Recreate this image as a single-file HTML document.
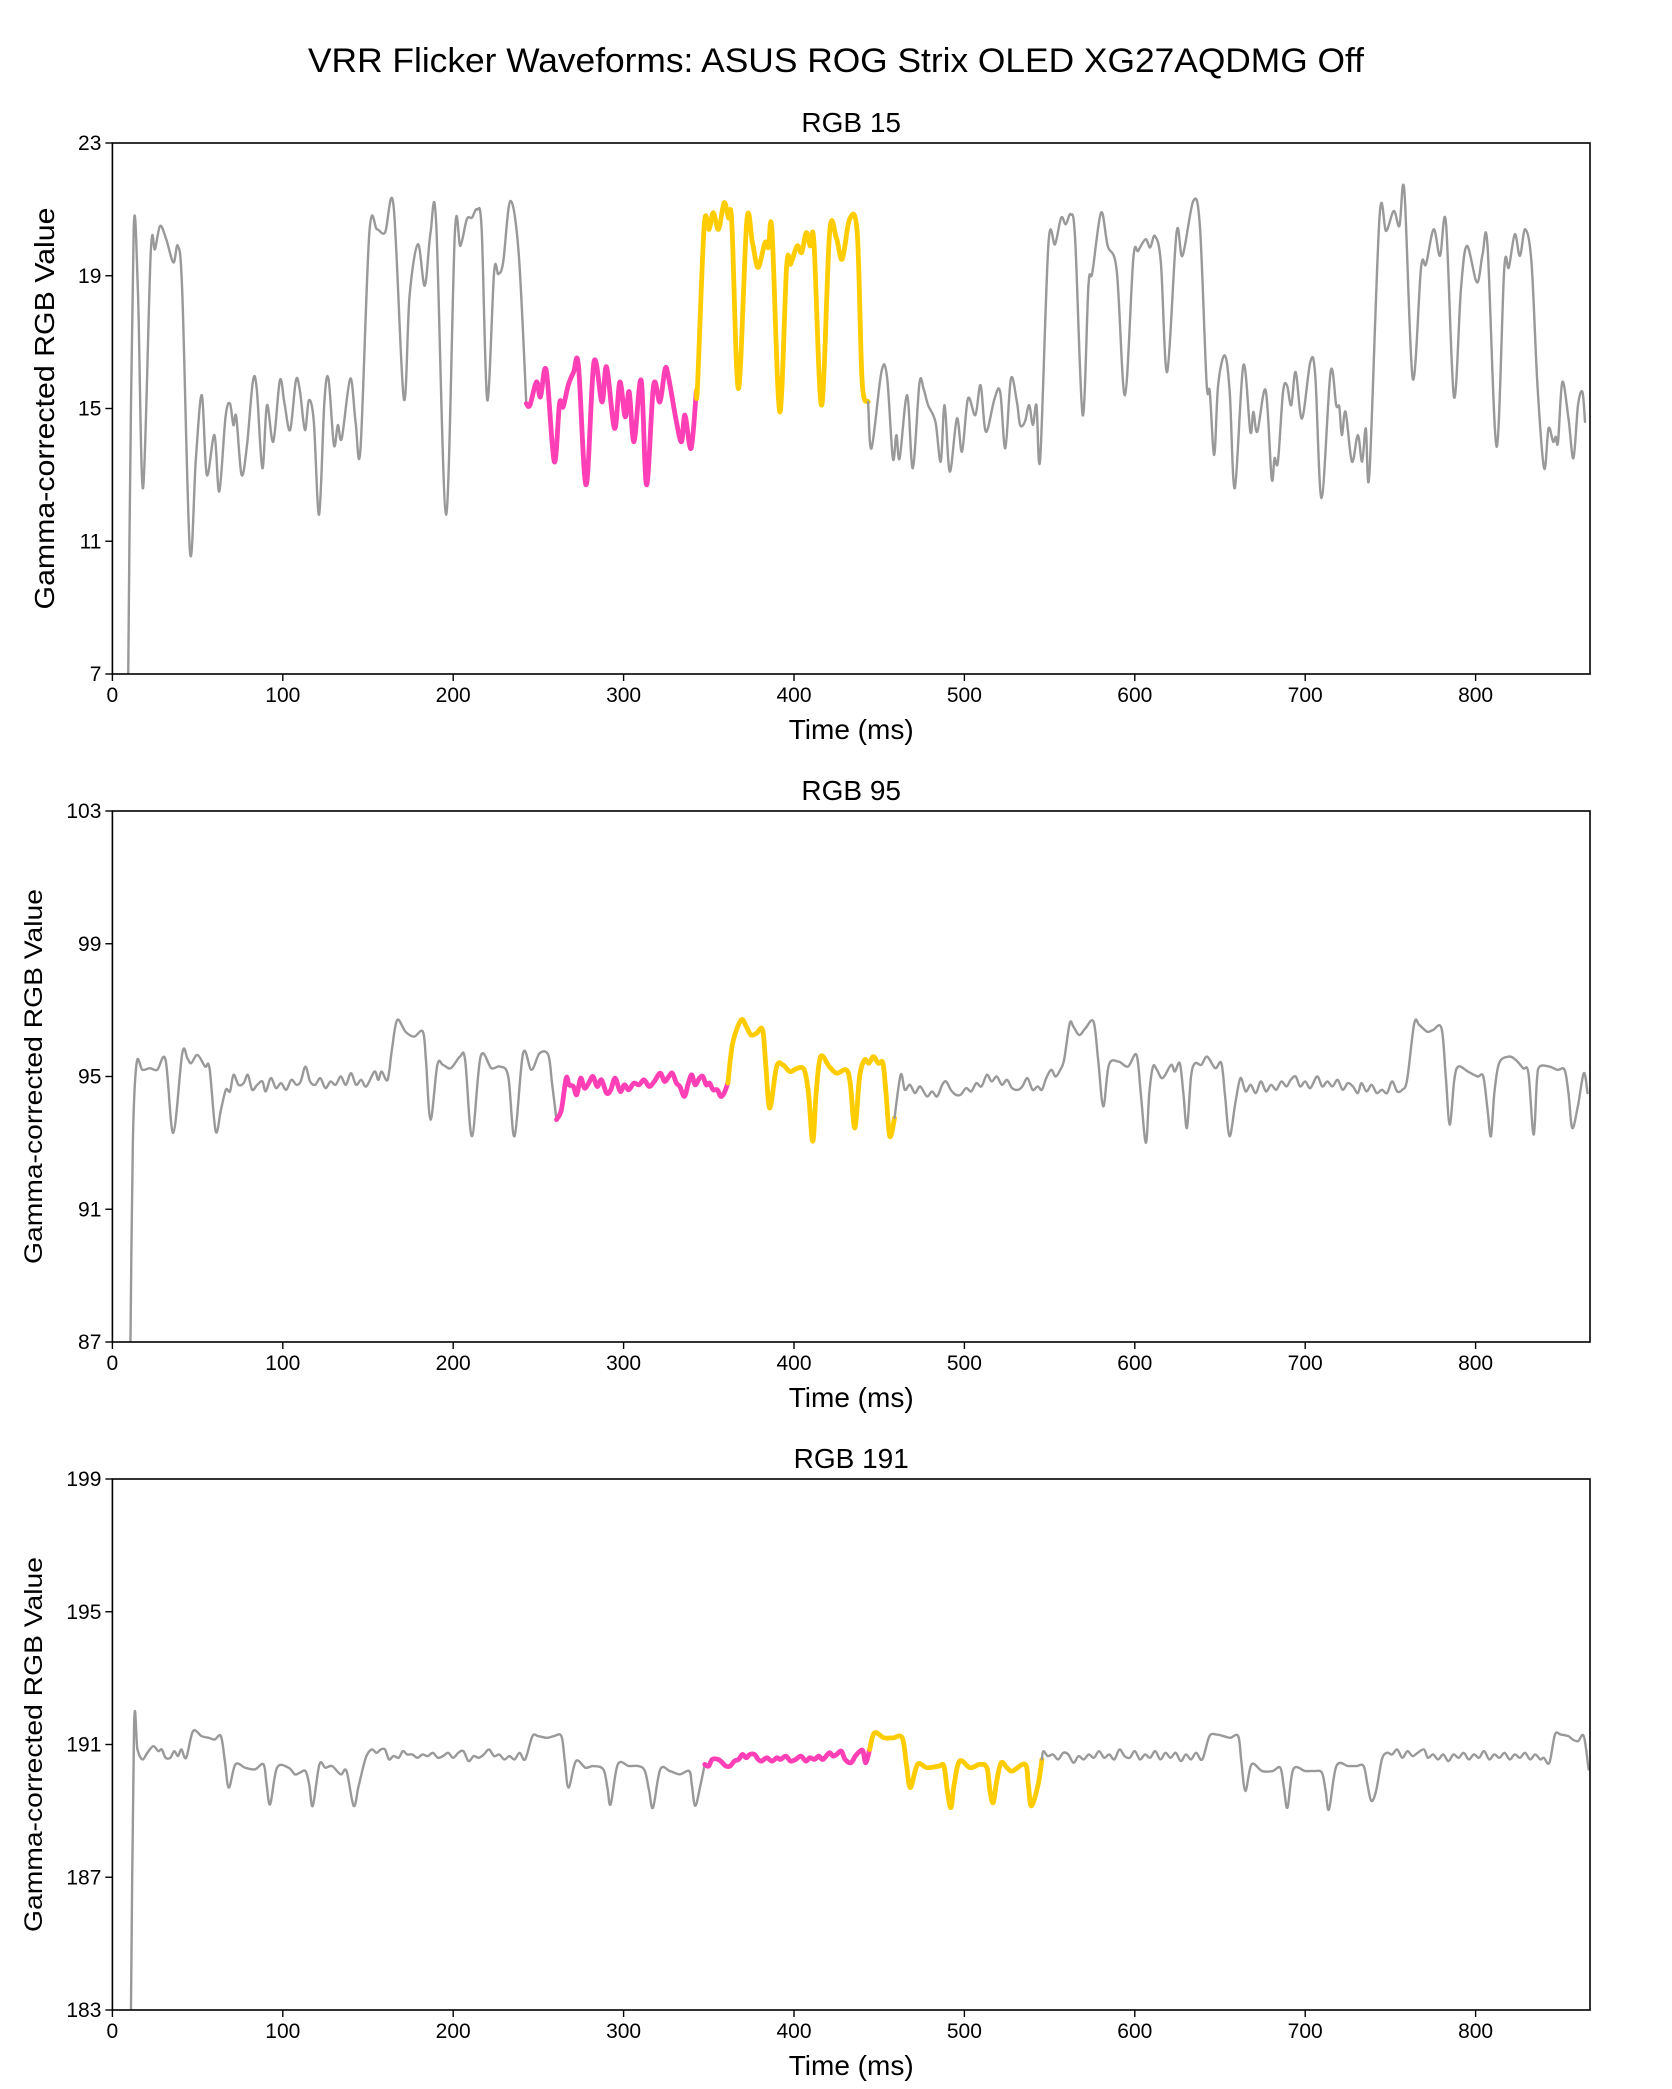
<!DOCTYPE html>
<html>
<head>
<meta charset="utf-8">
<style>
  html, body { margin: 0; padding: 0; background: #fff; }
  svg { display: block; font-family: "Liberation Sans", "DejaVu Sans", sans-serif; }
</style>
</head>
<body>
<svg id="chart" width="1672" height="2089" viewBox="0 0 1672 2089" xmlns="http://www.w3.org/2000/svg">
  <rect x="0" y="0" width="1672" height="2089" fill="#ffffff"/>
  <text x="836" y="72" text-anchor="middle" font-size="34" textLength="1056" lengthAdjust="spacingAndGlyphs" fill="#000">VRR Flicker Waveforms: ASUS ROG Strix OLED XG27AQDMG Off</text>
</svg>
<script>
// ---------- data ----------
const xTicks = [0, 100, 200, 300, 400, 500, 600, 700, 800];
const panelTitles = ["RGB 15", "RGB 95", "RGB 191"];
const p1Ticks = [7, 11, 15, 19, 23];
const p2Ticks = [87, 91, 95, 99, 103];
const p3Ticks = [183, 187, 191, 195, 199];
// segment boundaries [pinkStart, yellowStart, yellowEnd] in ms
const p1Segments = [242.9, 343.0, 443.5];
const p2Segments = [260.6, 361.2, 459.0];
const p3Segments = [347.6, 444.4, 545.5];

const p1Time = [9.2,10,12.5,15,18,22.5,25,28,31.6,35.8,38.4,41,45.5,49,52.5,55.4,59.9,62.7,66.4,69,71,72.7,75.8,79,82.4,84.7,88,90.7,94.4,98.3,101,104.3,107.7,110,113,115.3,118.2,121.3,124.4,126.8,130,132.3,134.6,139.6,142.7,145.6,150.8,155.3,160,165,171,174.4,179.3,183.3,186.7,190,195.8,201,204.2,208,211,214,216.7,220,224,226.5,229.3,233.5,238.4,242.9,
245,248.9,251.2,254.6,259.3,262.4,264.5,267.5,270.7,273.5,278,282.6,287.3,290,294.7,297.8,300.9,303.3,306.1,310.3,313.5,317.6,321.3,324.4,326.5,331,334,336,339.6,342.7,
343.4,347.3,350.2,352.6,355.7,359,361.5,363.5,367.4,372.3,375.6,378.9,383,385,387.1,391.6,395.7,398,401.9,404.5,407.2,409.5,411.7,416.2,420.9,424.8,428.3,432.6,437.1,440,443.5,
445.5,451.3,454.6,458,460.1,462,466.4,469.7,473.6,476,478.7,483,486.1,488.4,491.4,495.6,498.6,502.1,506.4,509.5,512.6,517.7,521,524,527.3,530.8,532.7,535.5,538,540.2,542.3,544.5,549.3,553.2,556.8,559.5,562.4,565,569.4,572.8,575.1,580.2,584.1,589.4,594.2,599.1,602,606.3,609,611.8,615.3,619,624.5,628,634.3,638.2,642.1,644,646.6,648.9,652.8,655.7,658.7,663.7,667.8,669.6,671.9,676.8,680.3,682,684,687,689.3,691.8,694.4,698.1,703,705.9,709.6,714.9,718.2,720,721.5,723.7,727.4,730.9,733.4,735.6,737.7,743.6,747.5,752,755.3,758.2,763.1,768,770.9,775.4,779.1,782.6,787.3,791.4,794.9,800.8,804.1,807,812.3,816.8,819.5,823,826,829.1,832.8,836.3,840.2,842.8,845.5,847,848.4,850.9,854.5,857.4,860.1,862.7,864.2];
const p1Value = [6.5,11,20.4,18.5,12.6,19.7,19.8,20.5,20.1,19.4,19.9,18.5,10.7,13.5,15.4,13.0,14.2,12.5,14.75,15.15,14.5,14.75,13.0,13.9,15.8,15.6,13.2,15.1,14.0,15.85,15.15,14.35,15.85,15.55,14.35,15.25,14.6,11.8,15.2,15.9,13.9,14.5,14.1,15.9,14.6,13.8,20.3,20.4,20.3,21.1,15.3,18.4,19.95,18.7,20.3,20.6,11.8,20.3,19.9,20.7,20.75,21.0,20.4,15.25,19.1,19.05,19.4,21.25,19.7,15.15,
15.1,15.8,15.35,16.15,13.4,15.15,15.05,15.7,16.1,16.3,12.7,16.4,15.2,16.25,14.4,15.8,14.75,15.5,14.0,15.85,12.7,15.7,15.2,16.2,15.9,14.6,14.0,14.8,13.8,15.55,
15.7,20.5,20.4,20.9,20.4,21.2,20.75,20.6,15.6,20.65,20.0,19.25,20.0,19.85,20.35,14.9,19.3,19.35,19.9,19.7,20.3,19.9,20.0,15.1,20.3,20.15,19.5,20.7,20.3,15.8,15.2,
13.8,16.1,15.95,13.5,14.2,13.5,15.4,13.2,15.75,15.6,15.1,14.6,13.4,15.1,13.1,14.7,13.7,15.3,14.8,15.7,14.3,15.3,15.5,13.8,15.9,15.2,14.5,14.6,15.1,14.5,15.1,13.5,19.95,19.95,20.75,20.55,20.85,20.1,14.8,18.7,19.1,20.9,19.9,19.15,15.4,19.5,19.75,20.1,19.85,20.2,19.4,16.1,20.3,19.6,21.25,20.5,15.8,15.5,13.6,15.7,16.6,15.5,12.6,16.3,14.3,14.9,14.3,15.55,12.9,13.5,13.4,15.5,15.7,15.1,16.1,14.7,16.4,16.0,12.3,16.1,15.1,15.05,14.2,14.9,13.4,14.2,13.4,14.4,13.05,20.75,20.35,20.95,20.5,21.55,15.9,19.25,19.35,20.4,19.6,20.6,15.35,18.6,19.9,18.8,19.65,19.9,13.85,19.2,19.25,20.25,19.6,20.4,19.4,15.7,13.2,14.4,14.0,14.15,14.0,15.8,14.7,13.5,15.1,15.5,14.6];

const p2Time = [10.5,12,14.2,17.6,22,26.3,31.2,35.7,41,44,46.2,49.9,54.4,57,60.6,63.7,66.6,69,71.1,74,77,79.5,82,85,88,90,93,96,99,102,105,108,110.5,113.3,116,119,122,125,128,131,134,137,140,143,146,149,153.8,156,158,161.5,164,167.1,172,177,182.2,184,186.7,190.7,194,198.6,204,207,211,216.1,222.4,227.5,232.3,236,241,245.9,250.7,255.8,258,260.6,
263.5,266.3,268,270.5,272.5,274.8,277,279.5,282,284.5,287,290,292.5,295,298,300.5,303,306,309,312,315,318,321.5,324,326.5,328.6,331,333,335.7,338,340,342,344.5,346.5,348.5,350.5,352.5,355,357,359,361.2,
364,369,372,374.8,378,381.6,383.5,385.8,389.8,393.5,397.7,402,406,408.5,411,413,415.6,420.7,425,430.6,433,435.7,438.5,441.4,444,446.6,449.5,452.2,454,456.2,459,
462.6,465,468,471,474,478,481,484,487,489.3,492,495,497.8,501,504,507,510,513.2,516,519,522,525,528,531.5,534,537,540,543,545.5,548,551,553.5,556.2,558.5,561.8,564,567.4,571,575.8,578.5,581.5,584.8,590.4,596,601,603.5,606.5,608.5,610.7,613,616.3,621.3,623.5,626.4,628.5,630.6,633,635.4,639,642.4,647.2,650.8,653,655.6,659,662,665,668,671,674,677,680,683,686,689,691.5,694.4,697,700,703,707,710,713,716,719,722,725,728,730.9,733,736,739,742,745,748,751,754,757,759.8,764,767,771.6,775,780,782.5,784.8,787.5,789.9,795.5,801.1,804.5,807,809,811,813.8,819.4,823.6,827.9,831,834,836,837.6,843.3,848,852.2,854.5,856.7,860,863.5,865.7];
const p2Value = [86.5,93,95.4,95.2,95.25,95.2,95.5,93.3,95.7,95.55,95.4,95.65,95.3,95.25,93.35,94.0,94.6,94.55,95.05,94.75,94.8,95.05,94.6,94.75,94.85,94.55,94.95,94.65,94.8,94.6,94.9,94.75,94.85,95.3,94.85,94.75,94.95,94.65,94.85,94.75,95.0,94.75,95.1,94.75,94.9,94.7,95.15,94.9,95.15,94.9,95.8,96.7,96.35,96.2,96.35,95.5,93.7,95.35,95.35,95.25,95.6,95.5,93.2,95.6,95.25,95.3,95.0,93.2,95.7,95.2,95.7,95.65,94.8,93.7,
94.0,94.95,94.75,94.7,94.45,94.95,94.65,94.8,95.0,94.7,94.9,94.5,94.6,94.95,94.55,94.75,94.6,94.8,94.75,94.9,94.7,94.85,95.1,94.85,95.0,95.1,94.8,94.7,94.4,94.8,95.05,94.75,94.95,95.0,94.75,94.8,94.6,94.6,94.4,94.5,94.8,
96.0,96.7,96.5,96.25,96.3,96.4,95.3,94.05,95.3,95.35,95.15,95.25,95.2,94.5,93.05,94.5,95.6,95.3,95.1,95.2,94.8,93.45,95.0,95.5,95.4,95.6,95.4,95.4,94.5,93.2,93.75,
95.05,94.6,94.75,94.5,94.7,94.4,94.55,94.4,94.75,94.85,94.6,94.45,94.45,94.65,94.55,94.8,94.7,95.05,94.85,95.0,94.75,94.9,94.65,94.6,94.7,94.95,94.6,94.7,94.6,94.95,95.2,95.0,95.2,95.5,96.6,96.5,96.25,96.45,96.65,95.5,94.1,95.35,95.45,95.3,95.65,94.5,93.0,94.5,95.3,95.2,94.95,95.35,95.15,95.4,94.5,93.45,95.0,95.4,95.35,95.6,95.25,95.4,94.4,93.2,94.2,94.95,94.55,94.75,94.5,94.85,94.55,94.75,94.6,94.85,94.7,94.9,95.0,94.7,94.85,94.65,95.0,94.7,94.85,94.7,94.9,94.6,94.8,94.7,94.5,94.8,94.55,94.75,94.5,94.6,94.5,94.85,94.55,94.6,94.9,96.6,96.55,96.35,96.4,96.45,95.0,93.55,94.9,95.3,95.15,95.0,95.0,94.0,93.2,94.5,95.4,95.6,95.5,95.25,95.1,93.25,94.9,95.3,95.3,95.2,95.2,94.5,93.45,94.1,95.1,94.5];

const p3Time = [10.8,12.7,14.7,17.6,20.5,24,27,29,31.2,34,36.3,38.5,40.5,43.3,47.3,52.4,56.7,60,63.7,66,68.3,72.2,77.9,83.6,88.7,90.5,92.6,96.6,103.4,107.1,110,113.3,115.5,117.6,121.5,125,128.9,134,137.4,141.6,144.5,148.7,152.1,155,157.5,160,162.3,165,168,170.5,173,176,179,182,185,188,191,194,197,200,203,206,209,212,215,218,221,224,227,230,233,236,239,242.2,246.5,250,255,259,263.5,265.5,267.7,272,277.6,282,288.1,290.5,292.4,296.6,303.1,308.8,312.5,315,317.3,321.5,327.2,332.9,338.5,340,342,344.8,347.6,
349.9,352,355.5,358,360,362.5,365,367.5,369.7,372,374,376.8,379,381,384,387,390,392,395.2,398,401,404,407,409.3,412,414.5,417,420.7,423,425,427.8,430,433.4,436,438.8,440.5,442.1,444.4,
447.2,452.8,458,463.5,466,468.3,472.5,478.1,485.1,488,490,492.1,494,497.2,503.4,509,513.2,515,516.9,519,521.6,525,528.1,535.7,537.5,539.3,543.3,545.5,
546.3,549,552,555,558,561,564,567,570,573,576,579,582,585,588,591,594,597,600,603,606,609,612,615,618,621,624,627,630,633,636,639.6,643.8,648,652.2,656,660.7,662.5,664.9,668.5,674.7,680.9,685.4,687.5,689.6,693,700,705,709.8,712,714,718.3,725.3,730,734.3,736.5,738.8,741.6,745,748,751,754,757,760,763,766,769.7,772,775,778,781,784,787,790,793,796,799,802,805,808,811,814,817,820,823,826,829,832,835,838,840,843.3,846.6,850,854.5,857,860.1,863.5,866.3];
const p3Value = [182.5,191.5,190.85,190.55,190.75,190.95,190.8,190.85,190.6,190.6,190.8,190.65,190.85,190.6,191.4,191.25,191.2,191.15,191.25,190.5,189.7,190.4,190.3,190.25,190.4,189.8,189.2,190.3,190.3,190.1,190.15,190.2,189.8,189.15,190.4,190.3,190.35,190.1,190.2,189.15,189.75,190.6,190.85,190.75,190.85,190.85,190.55,190.65,190.6,190.8,190.7,190.7,190.6,190.7,190.65,190.75,190.6,190.65,190.75,190.6,190.75,190.8,190.5,190.65,190.6,190.7,190.85,190.65,190.7,190.55,190.65,190.55,190.75,190.55,191.25,191.25,191.2,191.25,191.25,190.5,189.7,190.5,190.3,190.35,190.25,189.7,189.2,190.4,190.35,190.35,190.2,189.6,189.1,190.25,190.2,190.1,190.2,189.8,189.15,189.7,190.4,
190.35,190.55,190.55,190.45,190.35,190.35,190.5,190.55,190.7,190.6,190.7,190.7,190.55,190.5,190.6,190.5,190.6,190.55,190.65,190.5,190.55,190.65,190.5,190.6,190.55,190.65,190.55,190.75,190.65,190.7,190.8,190.55,190.45,190.65,190.8,190.8,190.45,190.85,
191.35,191.2,191.2,191.2,190.4,189.7,190.4,190.3,190.35,190.35,189.6,189.1,189.8,190.5,190.3,190.4,190.3,189.6,189.25,189.9,190.45,190.3,190.2,190.4,189.8,189.15,189.8,190.55,
190.8,190.65,190.7,190.55,190.75,190.7,190.45,190.65,190.55,190.7,190.6,190.8,190.6,190.7,190.55,190.85,190.65,190.6,190.8,190.55,190.7,190.6,190.8,190.55,190.75,190.6,190.75,190.5,190.7,190.55,190.75,190.55,191.25,191.3,191.25,191.2,191.25,190.5,189.6,190.4,190.2,190.2,190.3,189.7,189.1,190.25,190.2,190.2,190.15,189.6,189.05,190.35,190.35,190.35,190.35,189.8,189.3,189.6,190.55,190.75,190.7,190.85,190.6,190.8,190.65,190.75,190.85,190.6,190.7,190.55,190.7,190.5,190.7,190.6,190.75,190.55,190.7,190.6,190.8,190.55,190.7,190.6,190.75,190.55,190.7,190.6,190.75,190.55,190.7,190.55,190.6,190.45,191.3,191.3,191.25,191.15,191.1,191.25,190.25];

// ---------- layout ----------
const NS = "http://www.w3.org/2000/svg";
const svg = document.getElementById("chart");
const plotLeft = 112.4, plotRight = 1590, plotH = 531;
const panelTops = [143, 811, 1479];
const xMax = (plotRight - plotLeft) / 1.704;
const GRAY = "#999999", PINK = "#ff3fb6", YELLOW = "#ffcc00";

function mk(tag, attrs, parent) {
  const el = document.createElementNS(NS, tag);
  for (const k in attrs) el.setAttribute(k, attrs[k]);
  (parent || svg).appendChild(el);
  return el;
}
function xScale(t) { return plotLeft + (t / xMax) * (plotRight - plotLeft); }
function makeY(top, ticks) {
  const lo = ticks[0], hi = ticks[ticks.length - 1];
  return v => top + plotH - (v - lo) / (hi - lo) * plotH;
}
function smoothPath(pts) {
  if (pts.length < 2) return "";
  let d = "M" + pts[0][0].toFixed(2) + "," + pts[0][1].toFixed(2);
  for (let i = 0; i < pts.length - 1; i++) {
    const p0 = pts[Math.max(i - 1, 0)], p1 = pts[i], p2 = pts[i + 1], p3 = pts[Math.min(i + 2, pts.length - 1)];
    const c1x = p1[0] + (p2[0] - p0[0]) / 6, c1y = p1[1] + (p2[1] - p0[1]) / 6;
    const c2x = p2[0] - (p3[0] - p1[0]) / 6, c2y = p2[1] - (p3[1] - p1[1]) / 6;
    d += "C" + c1x.toFixed(2) + "," + c1y.toFixed(2) + " " + c2x.toFixed(2) + "," + c2y.toFixed(2) + " " + p2[0].toFixed(2) + "," + p2[1].toFixed(2);
  }
  return d;
}

function drawPanel(idx, times, values, ticks, segs, ylabelSize, ylabelLen, ylabelX) {
  const top = panelTops[idx];
  const yScale = makeY(top, ticks);
  const g = mk("g", {});
  
  

  const clipId = "clip" + idx;
  const cp = mk("clipPath", { id: clipId }, g);
  mk("rect", { x: plotLeft, y: top, width: plotRight - plotLeft, height: plotH }, cp);

  const groups = [[], [], [], []];
  for (let i = 0; i < times.length; i++) {
    const t = times[i], p = [xScale(t), yScale(values[i])];
    let k = t <= segs[0] ? 0 : t <= segs[1] ? 1 : t <= segs[2] ? 2 : 3;
    groups[k].push(p);
  }
  for (let k = 0; k < 3; k++) {
    if (groups[k].length && groups[k + 1].length) groups[k + 1].unshift(groups[k][groups[k].length - 1]);
  }
  const styles = [[GRAY, 2.4, 'baseline-waveform-before'], [PINK, 4.8, 'low-refresh-segment'], [YELLOW, 4.8, 'high-refresh-segment'], [GRAY, 2.4, 'baseline-waveform-after']];
  const lines = mk("g", { "clip-path": "url(#" + clipId + ")" }, g);
  for (let k = 0; k < 4; k++) {
    const path = mk("path", { d: smoothPath(groups[k]), fill: "none", stroke: styles[k][0], "stroke-width": styles[k][1], "stroke-linejoin": "round", "stroke-linecap": "round" }, lines);
    
    
  }

  const frame = mk("rect", { x: plotLeft, y: top, width: plotRight - plotLeft, height: plotH, fill: "none", stroke: "#000", "stroke-width": 1.6 }, g);
  
  

  ticks.forEach(v => {
    const y = yScale(v);
    mk("line", { x1: plotLeft - 7, x2: plotLeft, y1: y, y2: y, stroke: "#000", "stroke-width": 1.4 }, g);
    const tx = mk("text", { x: plotLeft - 11, y: y + 7, "text-anchor": "end", "font-size": 21, fill: "#000" }, g);
    tx.textContent = v;
    
    
  });
  xTicks.forEach(t => {
    const x = xScale(t), yb = top + plotH;
    mk("line", { x1: x, x2: x, y1: yb, y2: yb + 7, stroke: "#000", "stroke-width": 1.4 }, g);
    const tx = mk("text", { x: x, y: yb + 28, "text-anchor": "middle", "font-size": 21, fill: "#000" }, g);
    tx.textContent = t;
    
    
  });
  const cx = (plotLeft + plotRight) / 2;
  const title = mk("text", { x: cx, y: top - 11, "text-anchor": "middle", "font-size": 28, fill: "#000" }, g);
  title.textContent = panelTitles[idx];
  
  

  const xl = mk("text", { x: cx, y: top + plotH + 65, "text-anchor": "middle", "font-size": 28, fill: "#000" }, g);
  xl.textContent = "Time (ms)";
  
  

  const cy = top + plotH / 2;
  const yl = mk("text", { x: 0, y: 0, "text-anchor": "middle", "font-size": ylabelSize, fill: "#000", textLength: ylabelLen, lengthAdjust: "spacingAndGlyphs", transform: "translate(" + ylabelX + "," + cy + ") rotate(-90)" }, g);
  yl.textContent = "Gamma-corrected RGB Value";
  
  
}

drawPanel(0, p1Time, p1Value, p1Ticks, p1Segments, 28, 402, 54);
drawPanel(1, p2Time, p2Value, p2Ticks, p2Segments, 25, 375, 42);
drawPanel(2, p3Time, p3Value, p3Ticks, p3Segments, 25, 375, 42);
</script>
</body>
</html>
